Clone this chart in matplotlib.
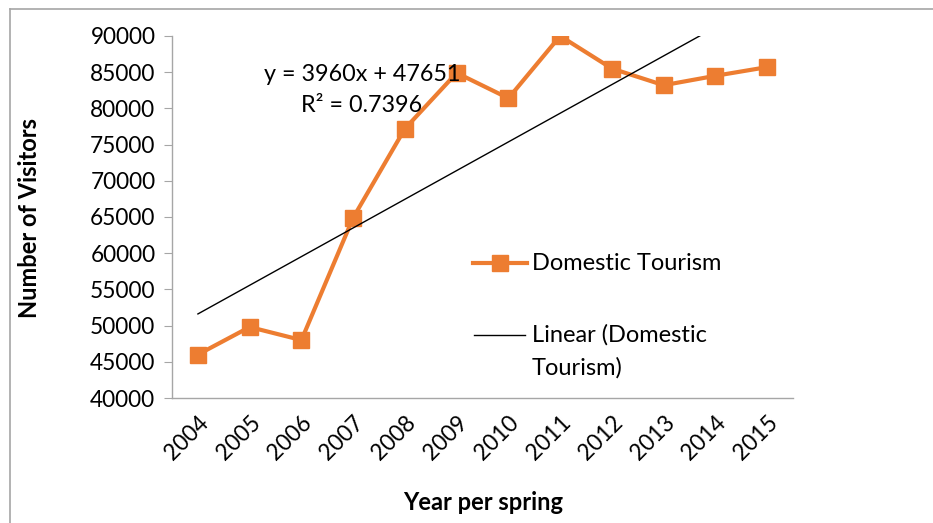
import numpy as np
import matplotlib
matplotlib.use("Agg")
import matplotlib.pyplot as plt
from matplotlib.lines import Line2D

plt.rcParams['font.family'] = ['Lato', 'DejaVu Sans']

years = ['2004', '2005', '2006', '2007', '2008', '2009',
         '2010', '2011', '2012', '2013', '2014', '2015']
visitors = [46000, 49800, 48000, 64900, 77200, 84900,
            81400, 90000, 85500, 83200, 84500, 85700]
slope = 3960
intercept = 47651
r_squared = 0.7396

orange = '#ED7D31'
grey = '#A6A6A6'

W, H = 933, 523


def fx(px):
    return px / W


def fy(py):
    return 1 - py / H


fig = plt.figure(figsize=(9.33, 5.23), dpi=100)
ax = fig.add_axes([0.1844, 0.239, 0.6656, 0.6922])

x = np.arange(len(years))
ax.plot(x, visitors, color=orange, lw=3, marker='s', markersize=12, zorder=3)
trend = slope * (x + 1) + intercept
ax.plot(x, trend, color='black', lw=1, zorder=4)

ax.set_xlim(-0.5, 11.5)
ax.set_ylim(40000, 90000)
ax.set_yticks(np.arange(40000, 90001, 5000))
ax.set_xticks(x)
ax.set_xticklabels(years, rotation=45, ha='right', va='top',
                   rotation_mode='anchor', fontsize=16.3)
ax.tick_params(axis='y', labelsize=16.3, length=6, color=grey, pad=6)
ax.tick_params(axis='x', length=0, pad=10)

for s in ['top', 'right']:
    ax.spines[s].set_visible(False)
for s in ['left', 'bottom']:
    ax.spines[s].set_color(grey)
    ax.spines[s].set_linewidth(1)

fig.text(fx(30), fy(218), 'Number of Visitors', rotation=90,
         ha='center', va='center', fontsize=17, fontweight='bold')
fig.text(fx(483), fy(502), 'Year per spring', ha='center', va='center',
         fontsize=17, fontweight='bold')

fig.text(fx(362), fy(90),
         'y = %dx + %d\nR² = %.4f' % (slope, intercept, r_squared),
         ha='center', va='center', fontsize=16.8, linespacing=1.55, zorder=5)

# legend, drawn by hand so the trendline key sits on the first text line
fig.add_artist(Line2D([fx(473), fx(527)], [fy(263), fy(263)], color=orange, lw=3,
                      transform=fig.transFigure))
fig.add_artist(Line2D([fx(500)], [fy(263)], color=orange, marker='s', markersize=12,
                      transform=fig.transFigure))
fig.text(fx(532), fy(263), 'Domestic Tourism', ha='left', va='center', fontsize=17)
fig.add_artist(Line2D([fx(474), fx(525)], [fy(335), fy(335)], color='black', lw=1,
                      transform=fig.transFigure))
fig.text(fx(532), fy(335), 'Linear (Domestic', ha='left', va='center', fontsize=17)
fig.text(fx(532), fy(368), 'Tourism)', ha='left', va='center', fontsize=17)

fig.add_artist(Line2D([0.011, 0.011], [0, 0.983], color=grey, lw=1.2,
                      transform=fig.transFigure))
fig.add_artist(Line2D([0.011, 1], [0.983, 0.983], color=grey, lw=1.2,
                      transform=fig.transFigure))

fig.savefig('out.png', dpi=100)
